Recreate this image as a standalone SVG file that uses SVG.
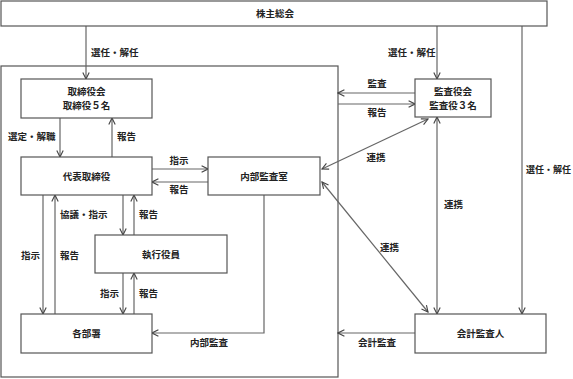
<svg xmlns="http://www.w3.org/2000/svg" width="573" height="379" viewBox="0 0 573 379">
<style>
.box{fill:#fff;stroke:#555;stroke-width:1.2}
.frame{fill:none;stroke:#555;stroke-width:1.2}
.ln{fill:none;stroke:#666;stroke-width:1.2}
text{font-family:"Noto Sans CJK JP","Noto Sans CJK SC",sans-serif;font-size:9.5px;font-weight:bold;fill:#222}
.c{text-anchor:middle}
</style>
<defs>
<marker id="ah" viewBox="0 0 10 10" refX="9" refY="5" markerWidth="8" markerHeight="8" markerUnits="userSpaceOnUse" orient="auto-start-reverse">
<path d="M1,1 L9,5 L1,9" fill="none" stroke="#444" stroke-width="1.4"/>
</marker>
</defs>
<rect width="573" height="379" fill="#fff"/>
<rect class="frame" x="1" y="66" width="337" height="311"/>
<g id="connectors">
<line class="ln" x1="86" y1="26" x2="86" y2="79" marker-end="url(#ah)"/>
<line class="ln" x1="437" y1="26" x2="437" y2="79" marker-end="url(#ah)"/>
<line class="ln" x1="522" y1="26" x2="522" y2="314" marker-end="url(#ah)"/>
<line class="ln" x1="415" y1="93" x2="338" y2="93" marker-end="url(#ah)"/>
<line class="ln" x1="338" y1="104" x2="415" y2="104" marker-end="url(#ah)"/>
<line class="ln" x1="60" y1="118" x2="60" y2="157" marker-end="url(#ah)"/>
<line class="ln" x1="112" y1="157" x2="112" y2="118" marker-end="url(#ah)"/>
<line class="ln" x1="152" y1="169" x2="208" y2="169" marker-end="url(#ah)"/>
<line class="ln" x1="208" y1="182" x2="152" y2="182" marker-end="url(#ah)"/>
<line class="ln" x1="322" y1="169" x2="428" y2="119" marker-start="url(#ah)" marker-end="url(#ah)"/>
<line class="ln" x1="322" y1="182" x2="428" y2="312" marker-start="url(#ah)" marker-end="url(#ah)"/>
<line class="ln" x1="437" y1="117" x2="437" y2="314" marker-start="url(#ah)" marker-end="url(#ah)"/>
<line class="ln" x1="43" y1="195" x2="43" y2="314" marker-end="url(#ah)"/>
<line class="ln" x1="55" y1="314" x2="55" y2="195" marker-end="url(#ah)"/>
<line class="ln" x1="123" y1="195" x2="123" y2="235" marker-end="url(#ah)"/>
<line class="ln" x1="134" y1="235" x2="134" y2="195" marker-end="url(#ah)"/>
<line class="ln" x1="123" y1="273" x2="123" y2="314" marker-end="url(#ah)"/>
<line class="ln" x1="134" y1="314" x2="134" y2="273" marker-end="url(#ah)"/>
<polyline class="ln" points="264,195 264,333 152,333" marker-end="url(#ah)"/>
<line class="ln" x1="415" y1="333" x2="338" y2="333" marker-end="url(#ah)"/>
</g>
<g id="labels">
<text x="91" y="56">選任・解任</text>
<text x="388" y="56">選任・解任</text>
<text class="c" x="377" y="86.5">監査</text>
<text class="c" x="377" y="115.5">報告</text>
<text x="8" y="139.5">選定・解職</text>
<text x="117" y="139.5">報告</text>
<text class="c" x="179" y="163.5">指示</text>
<text class="c" x="179" y="192.5">報告</text>
<text class="c" x="376" y="160.5">連携</text>
<text x="571" y="172.5" text-anchor="end" style="font-size:9px">選任・解任</text>
<text x="444" y="207.5">連携</text>
<text x="60" y="217.5">協議・指示</text>
<text x="139" y="217.5">報告</text>
<text x="21" y="258.5">指示</text>
<text x="60" y="258.5">報告</text>
<text x="380" y="250.5">連携</text>
<text x="100" y="296.5">指示</text>
<text x="139" y="296.5">報告</text>
<text x="190" y="345.5">内部監査</text>
<text x="358" y="345.5">会計監査</text>
</g>
<g id="shareholders"><rect class="box" x="1" y="1" width="546" height="25"/><text class="c" x="275" y="17">株主総会</text></g>
<g id="board"><rect class="box" x="21" y="79" width="131" height="39"/><text class="c" x="86.5" y="94.5">取締役会</text><text class="c" x="86.5" y="108.5">取締役５名</text></g>
<g id="auditors"><rect class="box" x="415" y="79" width="76" height="38"/><text class="c" x="453" y="94.5">監査役会</text><text class="c" x="453" y="108.5">監査役３名</text></g>
<g id="ceo"><rect class="box" x="21" y="157" width="131" height="38"/><text class="c" x="86.5" y="179.5">代表取締役</text></g>
<g id="internal-audit"><rect class="box" x="208" y="157" width="112" height="38"/><text class="c" x="264" y="179.5">内部監査室</text></g>
<g id="officers"><rect class="box" x="95" y="235" width="132" height="38"/><text class="c" x="161" y="257.5">執行役員</text></g>
<g id="departments"><rect class="box" x="21" y="314" width="131" height="39"/><text class="c" x="86.5" y="336.5">各部署</text></g>
<g id="accounting-auditor"><rect class="box" x="415" y="314" width="131" height="39"/><text class="c" x="480.5" y="336.5">会計監査人</text></g>
</svg>
